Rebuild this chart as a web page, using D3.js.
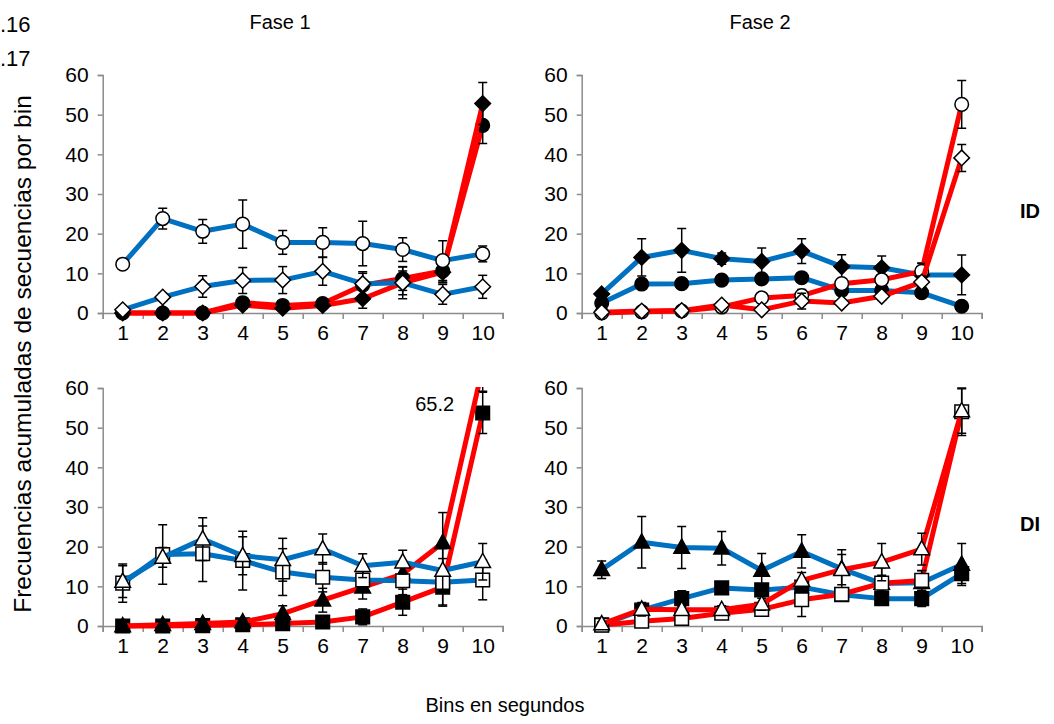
<!DOCTYPE html>
<html>
<head>
<meta charset="utf-8">
<script src="https://cdn.jsdelivr.net/npm/d3@7"></script>
<style>
  body { margin: 0; background: #fff; }
  text { font-family: Arial, "Liberation Sans", sans-serif; fill: #000; }
</style>
</head>
<body>
<div id="chart"></div>
<script>
// ---- data ----
const bins = [1, 2, 3, 4, 5, 6, 7, 8, 9, 10];
const yTicks = [0, 10, 20, 30, 40, 50, 60];
const phaseTitles = ["Fase 1", "Fase 2"];
const rowTitles = ["ID", "DI"];

// Fase 1, ID
const f1IdOpenCircle = [12.3, 23.8, 20.6, 22.4, 17.8, 17.8, 17.5, 16.0, 13.2, 14.9];
const f1IdOpenCircleErr = [0, 2.6, 3.0, 6.1, 3.0, 3.7, 5.6, 3.0, 5.0, 2.0];
const f1IdOpenDiamond = [0.8, 4.0, 6.7, 8.2, 8.3, 10.5, 7.4, 7.6, 4.7, 6.6];
const f1IdOpenDiamondErr = [0, 1.0, 2.7, 3.3, 3.4, 3.5, 3.0, 4.0, 2.5, 2.9];
const f1IdFilledCircle = [0, 0, 0, 2.6, 1.9, 2.4, 7.0, 8.7, 10.6, 47.3];
const f1IdFilledCircleErr = [0, 0, 0, 1.2, 0.8, 0.8, 3.0, 3.0, 3.0, 4.6];
const f1IdFilledDiamond = [0, 0, 0, 2.0, 1.2, 1.9, 3.6, 7.6, 10.3, 52.8];
const f1IdFilledDiamondErr = [0, 0, 0, 1.0, 0.8, 0.8, 2.4, 3.0, 2.5, 5.3];

// Fase 2, ID
const f2IdFilledDiamond = [4.8, 14.0, 15.8, 13.7, 13.0, 15.6, 11.7, 11.4, 9.6, 9.6];
const f2IdFilledDiamondErr = [0.8, 4.7, 5.5, 1.4, 3.4, 3.1, 3.0, 3.0, 3.0, 5.0];
const f2IdFilledCircle = [2.5, 7.3, 7.4, 8.3, 8.6, 8.9, 5.7, 5.7, 5.1, 1.7];
const f2IdFilledCircleErr = [0.5, 1.2, 1.2, 1.2, 1.0, 1.2, 1.0, 1.0, 1.0, 0.5];
const f2IdOpenCircle = [0, 0.3, 0.5, 1.5, 3.8, 4.4, 7.4, 8.4, 10.5, 52.6];
const f2IdOpenCircleErr = [0, 0, 0, 0.5, 1.0, 1.5, 1.0, 1.0, 2.0, 6.0];
const f2IdOpenDiamond = [0.2, 0.5, 0.6, 2.0, 0.8, 3.0, 2.5, 4.2, 7.8, 39.1];
const f2IdOpenDiamondErr = [0, 0, 0, 0.5, 0.5, 2.0, 0.8, 1.0, 1.5, 3.4];

// Fase 1, DI
const f1DiFilledSquare = [0, 0, 0.1, 0.3, 0.6, 1.0, 2.3, 6.0, 9.8, 53.7];
const f1DiFilledSquareErr = [0, 0, 0, 0.2, 0.5, 0.8, 2.0, 3.3, 4.5, 5.2];
const f1DiFilledTriangle = [0, 0.3, 0.6, 1.0, 3.1, 6.5, 9.8, 13.1, 21.0, 65.2];
const f1DiFilledTriangleErr = [0, 0.3, 0.5, 0.5, 2.0, 3.0, 3.0, 3.0, 7.6, 6.0];
const f1DiOpenSquare = [10.8, 18.0, 18.2, 16.5, 13.6, 12.3, 11.6, 11.4, 11.0, 11.6];
const f1DiOpenSquareErr = [4.8, 7.5, 7.0, 7.4, 5.9, 3.7, 3.0, 3.5, 6.0, 5.0];
const f1DiOpenTriangle = [11.2, 17.3, 21.9, 17.7, 16.7, 19.4, 15.2, 16.1, 14.0, 16.2];
const f1DiOpenTriangleErr = [4.0, 2.5, 5.4, 4.8, 5.4, 3.8, 3.0, 3.0, 5.5, 4.6];

// Fase 2, DI
const f2DiFilledTriangle = [14.2, 21.1, 19.8, 19.6, 14.0, 18.8, 14.4, 10.7, 10.9, 15.5];
const f2DiFilledTriangleErr = [2.2, 6.5, 5.3, 4.2, 4.3, 4.2, 4.8, 4.0, 3.0, 5.3];
const f2DiFilledSquare = [0.3, 4.0, 6.9, 9.6, 9.1, 9.8, 7.9, 6.9, 6.9, 13.2];
const f2DiFilledSquareErr = [0.3, 1.5, 2.0, 1.0, 1.5, 1.5, 1.5, 1.5, 2.0, 2.5];
const f2DiOpenSquare = [0.2, 1.2, 1.9, 3.2, 4.2, 6.6, 8.0, 10.8, 11.5, 54.0];
const f2DiOpenSquareErr = [0.2, 0.5, 0.8, 1.5, 1.2, 4.2, 1.5, 2.0, 2.5, 6.0];
const f2DiOpenTriangle = [0.5, 4.2, 4.1, 4.1, 5.5, 11.5, 14.2, 16.1, 19.4, 54.2];
const f2DiOpenTriangleErr = [0.5, 1.7, 1.0, 1.0, 1.5, 2.0, 3.8, 4.7, 4.0, 5.6];

const offChartLabel = "65.2";
const cornerLabels = [".16", ".17"];

const BLUE = "#0070C0";
const RED = "#FF0000";

class Panel {
  constructor(svg, config) {
    this.svg = svg;
    this.config = config;
    this.g = null;
    this.xScale = null;
    this.yScale = null;
    this.createGroup();
    this.createScales();
  }

  createGroup() {
    this.g = this.svg.append("g")
      .attr("transform", `translate(${this.config.left},${this.config.top})`);
  }

  createScales() {
    this.xScale = d3.scaleLinear().domain([0.5, 10.5]).range([0, this.config.width]);
    this.yScale = d3.scaleLinear().domain([0, 60]).range([this.config.height, 0]);
  }

  createAxis() {
    const h = this.config.height;
    // y axis
    const yAxis = this.g.append("g")
      .call(d3.axisLeft(this.yScale).tickValues(yTicks).tickSize(5).tickPadding(9));
    // x axis: boundary ticks
    const xTickG = this.g.append("g")
      .attr("transform", `translate(0,${h})`)
      .call(d3.axisBottom(this.xScale)
        .tickValues(d3.range(0.5, 11, 1)).tickSize(6).tickFormat(""));
    // x labels
    const xLab = this.g.append("g")
      .attr("transform", `translate(0,${h})`)
      .call(d3.axisBottom(this.xScale).tickValues(bins).tickSize(0).tickPadding(12));
    xLab.select(".domain").remove();

    [yAxis, xTickG].forEach(a => {
      a.selectAll(".domain, line").attr("stroke", "#8c8c8c").attr("stroke-width", 1.5);
    });
    [yAxis, xLab].forEach(a => {
      a.selectAll("text").attr("font-size", 21).attr("fill", "#000")
        .style("font-family", "Arial, 'Liberation Sans', sans-serif");
    });
  }

  shape(type) {
    if (type === "circle") return "M6.8,0A6.8,6.8 0 1,1 -6.8,0A6.8,6.8 0 1,1 6.8,0Z";
    if (type === "diamond") return "M0,-7.8L7.8,0L0,7.8L-7.8,0Z";
    if (type === "square") return "M-6.8,-6.8H6.8V6.8H-6.8Z";
    return "M0,-8.5L7.8,5.8L-7.8,5.8Z";
  }

  render() {
    const clipId = "clip" + this.config.id;
    this.g.append("clipPath").attr("id", clipId)
      .append("rect")
      .attr("x", -15).attr("y", this.yScale(60) - 1)
      .attr("width", this.config.width + 30).attr("height", this.config.height + 20);

    const plot = this.g.append("g").attr("clip-path", `url(#${clipId})`);
    const line = d3.line().x((d, i) => this.xScale(bins[i])).y(d => this.yScale(d));

    this.config.series.forEach(s => {
      const sg = plot.append("g");
      sg.append("path")
        .datum(s.values)
        .attr("d", line)
        .attr("fill", "none")
        .attr("stroke", s.color)
        .attr("stroke-width", 5)
        .attr("stroke-linejoin", "round");

      const eb = sg.append("g").attr("stroke", "#000").attr("stroke-width", 1.5);
      s.values.forEach((v, i) => {
        const e = s.err[i];
        if (!e) return;
        const x = this.xScale(bins[i]);
        const y1 = this.yScale(v - e), y2 = this.yScale(v + e);
        eb.append("line").attr("x1", x).attr("x2", x).attr("y1", y1).attr("y2", y2);
        eb.append("line").attr("x1", x - 4.5).attr("x2", x + 4.5).attr("y1", y1).attr("y2", y1);
        eb.append("line").attr("x1", x - 4.5).attr("x2", x + 4.5).attr("y1", y2).attr("y2", y2);
      });

      sg.selectAll("path.mark")
        .data(s.values)
        .join("path")
        .attr("class", "mark")
        .attr("transform", (d, i) => `translate(${this.xScale(bins[i])},${this.yScale(d)})`)
        .attr("d", this.shape(s.shape))
        .attr("fill", s.filled ? "#000" : "#fff")
        .attr("stroke", "#000")
        .attr("stroke-width", 1.5);
    });
  }
}

function main() {
  const svg = d3.select("#chart").append("svg")
    .attr("width", 1054).attr("height", 724);

  const panels = [
    { id: "A", left: 102.7, top: 75, width: 400, height: 238, series: [
      { values: f1IdFilledCircle, err: f1IdFilledCircleErr, color: RED, shape: "circle", filled: true },
      { values: f1IdFilledDiamond, err: f1IdFilledDiamondErr, color: RED, shape: "diamond", filled: true },
      { values: f1IdOpenCircle, err: f1IdOpenCircleErr, color: BLUE, shape: "circle", filled: false },
      { values: f1IdOpenDiamond, err: f1IdOpenDiamondErr, color: BLUE, shape: "diamond", filled: false }
    ]},
    { id: "B", left: 581.7, top: 75, width: 400, height: 238, series: [
      { values: f2IdFilledDiamond, err: f2IdFilledDiamondErr, color: BLUE, shape: "diamond", filled: true },
      { values: f2IdFilledCircle, err: f2IdFilledCircleErr, color: BLUE, shape: "circle", filled: true },
      { values: f2IdOpenCircle, err: f2IdOpenCircleErr, color: RED, shape: "circle", filled: false },
      { values: f2IdOpenDiamond, err: f2IdOpenDiamondErr, color: RED, shape: "diamond", filled: false }
    ]},
    { id: "C", left: 102.7, top: 388, width: 400, height: 238, series: [
      { values: f1DiFilledSquare, err: f1DiFilledSquareErr, color: RED, shape: "square", filled: true },
      { values: f1DiFilledTriangle, err: f1DiFilledTriangleErr, color: RED, shape: "triangle", filled: true },
      { values: f1DiOpenSquare, err: f1DiOpenSquareErr, color: BLUE, shape: "square", filled: false },
      { values: f1DiOpenTriangle, err: f1DiOpenTriangleErr, color: BLUE, shape: "triangle", filled: false }
    ]},
    { id: "D", left: 581.7, top: 388, width: 400, height: 238, series: [
      { values: f2DiFilledTriangle, err: f2DiFilledTriangleErr, color: BLUE, shape: "triangle", filled: true },
      { values: f2DiFilledSquare, err: f2DiFilledSquareErr, color: BLUE, shape: "square", filled: true },
      { values: f2DiOpenSquare, err: f2DiOpenSquareErr, color: RED, shape: "square", filled: false },
      { values: f2DiOpenTriangle, err: f2DiOpenTriangleErr, color: RED, shape: "triangle", filled: false }
    ]}
  ];

  const built = panels.map(c => {
    const p = new Panel(svg, c);
    p.createAxis();
    p.render();
    return p;
  });

  // label for the value that runs off the chart
  const pc = built[2];
  pc.g.append("text")
    .attr("x", pc.xScale(9) - 8)
    .attr("y", pc.yScale(55) + 3)
    .attr("text-anchor", "middle")
    .attr("font-size", 20)
    .text(offChartLabel);

  // page residue in the corner
  svg.selectAll(".corner")
    .data(cornerLabels)
    .join("text")
    .attr("class", "corner")
    .attr("x", 0)
    .attr("y", (d, i) => [32, 66][i])
    .attr("font-size", 22)
    .text(d => d);

  svg.selectAll(".phase")
    .data(phaseTitles)
    .join("text")
    .attr("class", "phase")
    .attr("x", (d, i) => [280, 760][i])
    .attr("y", 29)
    .attr("text-anchor", "middle")
    .attr("font-size", 20)
    .text(d => d);

  svg.selectAll(".row")
    .data(rowTitles)
    .join("text")
    .attr("class", "row")
    .attr("x", 1030)
    .attr("y", (d, i) => [218, 531][i])
    .attr("text-anchor", "middle")
    .attr("font-size", 20)
    .attr("font-weight", "bold")
    .text(d => d);

  svg.append("text")
    .attr("transform", "translate(31,354) rotate(-90)")
    .attr("text-anchor", "middle")
    .attr("font-size", 24.5)
    .text("Frecuencias acumuladas de secuencias por bin");

  svg.append("text")
    .attr("x", 505).attr("y", 712)
    .attr("text-anchor", "middle")
    .attr("font-size", 20)
    .text("Bins en segundos");
}

main();
</script>
</body>
</html>
